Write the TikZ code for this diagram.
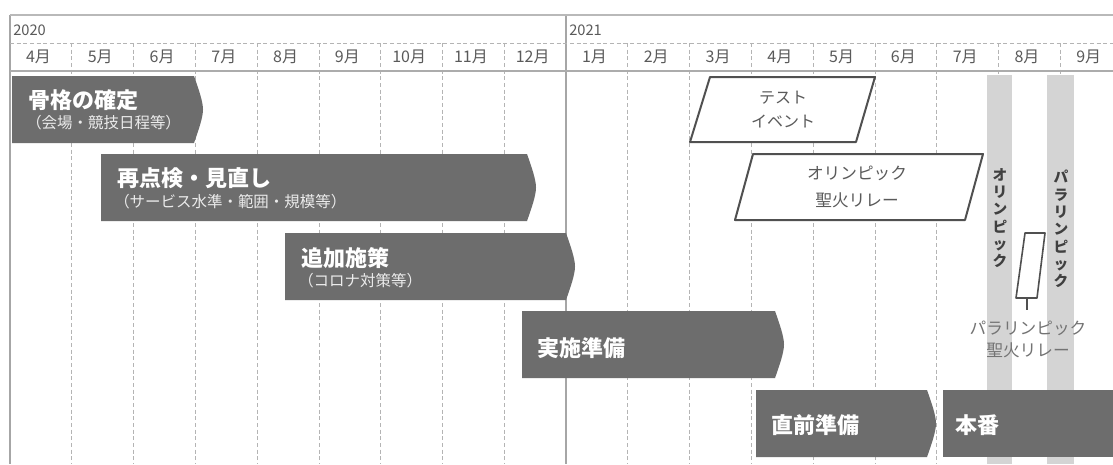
\documentclass[tikz,border=0pt]{standalone}
\usepackage{fontspec}
\newfontfamily\jp{Noto Sans CJK JP}
\definecolor{bargray}{HTML}{6D6D6D}
\definecolor{gamegray}{HTML}{D4D4D4}
\definecolor{boxgray}{HTML}{505050}
\definecolor{labelgray}{HTML}{5A5A5A}
\definecolor{gridgray}{HTML}{B4B4B4}

\begin{document}
\begin{tikzpicture}[
        x=0.75pt, y=-0.75pt,
        every node/.style={font=\jp, inner sep=0pt},
        monthline/.style={densely dashed, draw=gridgray, line width=0.6pt},
        phase/.style={fill=bargray},
        phasetitle/.style={anchor=west, text=white, font=\jp\bfseries\fontsize{16.5}{18}\selectfont},
        phasenote/.style={anchor=west, text=white!92!black, font=\jp\fontsize{11.6}{13}\selectfont},
        eventbox/.style={draw=boxgray, line width=1.5pt, fill=white, line join=round},
        eventtext/.style={text=labelgray, align=center, font=\jp\fontsize{12}{18}\selectfont},
        gametext/.style={text=black!75, align=center, font=\jp\bfseries\fontsize{11}{13}\selectfont}
    ]
    \useasboundingbox (0,0) rectangle (1113,464);
    \fill[white] (0,0) rectangle (1113,464);

    \foreach \i in {1,2,3,4,5,6,7,8,10,11,12,13,14,15,16,17}
        \draw[monthline] (10+61.78*\i,43) -- (10+61.78*\i,464);
    \draw[gray!70, line width=0.9pt] (566,15) -- (566,464);
    \draw[gray!70, line width=0.9pt] (10,15) -- (10,464);
    \draw[gray!55, line width=2pt] (10,15) -- (1113,15);
    \draw[monthline] (10,43) -- (1113,43);
    \draw[gray!65, line width=2pt] (10,71) -- (1113,71);

    \node[anchor=west, text=labelgray, font=\jp\fontsize{11}{12}\selectfont] (y2020) at (13,30) {2020};
    \node[anchor=west, text=labelgray, font=\jp\fontsize{11}{12}\selectfont] (y2021) at (569,30) {2021};
    \foreach \m [count=\i from 0] in {4,5,6,7,8,9,10,11,12,1,2,3,4,5,6,7,8,9}
        \node[text=labelgray, font=\jp\fontsize{12}{13}\selectfont] (m\i) at (10+61.78*\i+28.5,57) {\m 月};

    \fill[gamegray] (987,75) rectangle (1012,464);
    \fill[gamegray] (1047,75) rectangle (1074,464);

    \foreach \l/\t/\r in {12/76/194, 101/154/527, 285/233/566, 522/311/775, 756/390/927}
        \fill[phase] (\l,\t) -- (\r,\t) .. controls (\r+5,\t+14) and (\r+9,\t+26) .. (\r+9,\t+33.5)
            .. controls (\r+9,\t+41) and (\r+5,\t+53) .. (\r,\t+67) -- (\l,\t+67) -- cycle;
    \fill[phase] (943,390) rectangle (1113,457);

    \node[phasetitle] (frame) at (28,100) {骨格の確定};
    \node[phasenote] (framenote) at (26,123) {（会場・競技日程等）};
    \node[phasetitle] (review) at (117,178) {再点検・見直し};
    \node[phasenote] (reviewnote) at (114,202) {（サービス水準・範囲・規模等）};
    \node[phasetitle] (extra) at (301,258) {追加施策};
    \node[phasenote] (extranote) at (298,281) {（コロナ対策等）};
    \node[phasetitle] (prep) at (537,348) {実施準備};
    \node[phasetitle] (final) at (771,425) {直前準備};
    \node[phasetitle] (games) at (955,425) {本番};

    \draw[eventbox] (710,77) -- (875,77) -- (856,142) -- (690,142) -- cycle;
    \node[eventtext] (test) at (783,110) {テスト\\イベント};
    \draw[eventbox] (753,154) -- (983,154) -- (965,220) -- (735,220) -- cycle;
    \node[eventtext, font=\jp\fontsize{12.5}{20}\selectfont] (olyrelay) at (857,187) {オリンピック\\聖火リレー};
    \draw[eventbox, line width=1.2pt] (1025,233) -- (1045,233) -- (1037,298) -- (1016,298) -- cycle;
    \coordinate (pararelay) at (1027,298);
    \coordinate (paralabeltop) at (1027,310);
    \draw[boxgray, line width=0.8pt] (pararelay) -- (paralabeltop);
    \node[eventtext, text=black!55, font=\jp\fontsize{12.5}{16.5}\selectfont] (paralabel) at (1028,339) {パラリンピック\\聖火リレー};

    \node[gametext] (oly) at (1000,218) {オ\\リ\\ン\\ピ\\ッ\\ク};
    \node[gametext] (para) at (1061,229) {パ\\ラ\\リ\\ン\\ピ\\ッ\\ク};
\end{tikzpicture}
\end{document}
